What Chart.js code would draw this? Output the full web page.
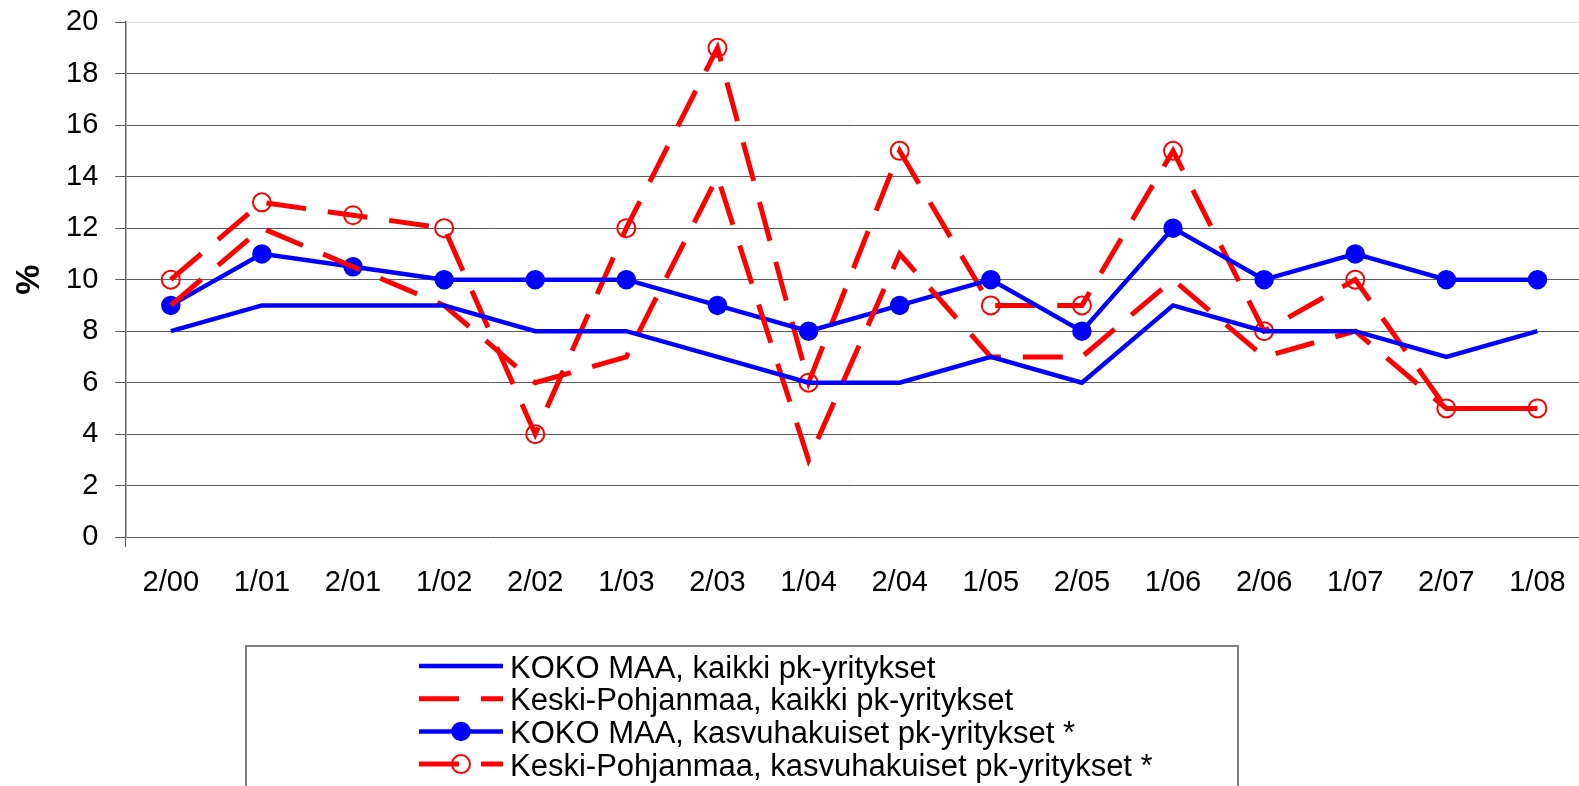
<!DOCTYPE html>
<html>
<head>
<meta charset="utf-8">
<script src="https://cdn.jsdelivr.net/npm/chart.js@4"></script>
<style>
    html, body { margin: 0; padding: 0; background: #fff; overflow: hidden; }
    #wrap { width: 1594px; height: 786px; position: relative; }
</style>
</head>
<body>
<div id="wrap"><canvas id="myChart"></canvas></div>
<script>
const periods = ['2/00', '1/01', '2/01', '1/02', '2/02', '1/03', '2/03', '1/04',
                 '2/04', '1/05', '2/05', '1/06', '2/06', '1/07', '2/07', '1/08'];

const kokoMaaKaikki = [8, 9, 9, 9, 8, 8, 7, 6, 6, 7, 6, 9, 8, 8, 7, 8];
const keskiPohjanmaaKaikki = [9, 12, 10.5, 9, 6, 7, 14, 3, 11, 7, 7, 10, 7, 8, 5, 5];
const kokoMaaKasvu = [9, 11, 10.5, 10, 10, 10, 9, 8, 9, 10, 8, 12, 10, 11, 10, 10];
const keskiPohjanmaaKasvu = [10, 13, 12.5, 12, 4, 12, 19, 6, 15, 9, 9, 15, 8, 10, 5, 5];

const yTicks = [0, 2, 4, 6, 8, 10, 12, 14, 16, 18, 20];

const BLUE = '#0000FF';
const RED = '#FF0000';
const FONT = 'Liberation Sans, Arial, sans-serif';

// legend drawn by hand: line sample + marker like the original
const boxLegend = {
    id: 'boxLegend',
    afterDraw(chart) {
        const ctx = chart.ctx;
        ctx.save();
        ctx.strokeStyle = '#808080';
        ctx.lineWidth = 2;
        ctx.strokeRect(246, 646, 992, 200);

        chart.data.datasets.forEach((ds, i) => {
            const y = 666 + i * 32.7;
            ctx.strokeStyle = ds.borderColor;
            ctx.lineWidth = ds.borderWidth;
            ctx.setLineDash(ds.borderDash || []);
            ctx.beginPath();
            ctx.moveTo(419, y);
            ctx.lineTo(503, y);
            ctx.stroke();
            ctx.setLineDash([]);
            if (ds.pointRadius > 0) {
                ctx.beginPath();
                ctx.arc(461, y, ds.pointRadius, 0, Math.PI * 2);
                if (ds.pointBackgroundColor !== 'transparent') {
                    ctx.fillStyle = ds.pointBackgroundColor;
                    ctx.fill();
                }
                ctx.lineWidth = ds.pointBorderWidth;
                ctx.strokeStyle = ds.pointBorderColor;
                ctx.stroke();
            }
            ctx.fillStyle = '#000';
            ctx.font = '31px ' + FONT;
            ctx.textBaseline = 'middle';
            ctx.textAlign = 'left';
            ctx.fillText(ds.label, 510, y + 3);
        });
        ctx.restore();
    }
};

let ctx = document.getElementById('myChart').getContext('2d');
let myChart = new Chart(ctx, {
    type: 'line',
    data: {
        labels: periods,
        datasets: [
            {
                label: 'KOKO MAA, kaikki pk-yritykset',
                data: kokoMaaKaikki,
                borderColor: BLUE,
                backgroundColor: BLUE,
                borderWidth: 4.5,
                pointRadius: 0,
                tension: 0,
            },
            {
                label: 'Keski-Pohjanmaa, kaikki pk-yritykset',
                data: keskiPohjanmaaKaikki,
                borderColor: RED,
                backgroundColor: RED,
                borderWidth: 5,
                borderDash: [40, 22],
                pointRadius: 0,
                tension: 0,
            },
            {
                label: 'KOKO MAA, kasvuhakuiset pk-yritykset *',
                data: kokoMaaKasvu,
                borderColor: BLUE,
                backgroundColor: BLUE,
                borderWidth: 4.5,
                pointRadius: 9,
                pointBackgroundColor: BLUE,
                pointBorderColor: BLUE,
                pointBorderWidth: 1.5,
                tension: 0,
            },
            {
                label: 'Keski-Pohjanmaa, kasvuhakuiset pk-yritykset *',
                data: keskiPohjanmaaKasvu,
                borderColor: RED,
                backgroundColor: RED,
                borderWidth: 5,
                borderDash: [40, 22],
                pointRadius: 9,
                pointBackgroundColor: 'transparent',
                pointBorderColor: RED,
                pointBorderWidth: 2,
                tension: 0,
            }
        ]
    },
    options: {
        responsive: true,
        maintainAspectRatio: false,
        animation: false,
        layout: {
            padding: { top: 10, left: 0, right: 0, bottom: 168 }
        },
        scales: {
            x: {
                offset: true,
                grid: {
                    offset: true,
                    drawOnChartArea: false,
                    drawTicks: true,
                    tickLength: 10,
                    // only the first boundary: the y axis line runs a bit below zero
                    tickColor: (c) => c.index === 0 ? '#606060' : 'rgba(0,0,0,0)',
                    color: 'rgba(0,0,0,0)'
                },
                border: { display: false },
                ticks: {
                    color: '#000',
                    padding: 18,
                    maxRotation: 0,
                    autoSkip: false,
                    font: { family: FONT, size: 29 }
                }
            },
            y: {
                min: 0,
                max: 20,
                afterBuildTicks: (axis) => {
                    axis.ticks = yTicks.map(v => ({ value: v }));
                },
                grid: {
                    color: (c) => (c.tick && c.tick.value === 20) ? '#e6e6e6' : '#5c5c5c',
                    lineWidth: 1,
                    tickLength: 10,
                    tickColor: '#5c5c5c'
                },
                border: { color: '#606060', width: 1.5 },
                ticks: {
                    color: '#000',
                    padding: 17,
                    font: { family: FONT, size: 29, lineHeight: 0.35 }
                },
                title: {
                    display: true,
                    text: '%',
                    color: '#000',
                    padding: { top: 13, bottom: 2 },
                    font: { family: FONT, size: 34, weight: 'bold', lineHeight: 1 }
                }
            }
        },
        plugins: {
            legend: { display: false },
            tooltip: { enabled: false }
        }
    },
    plugins: [boxLegend]
});
</script>
</body>
</html>
